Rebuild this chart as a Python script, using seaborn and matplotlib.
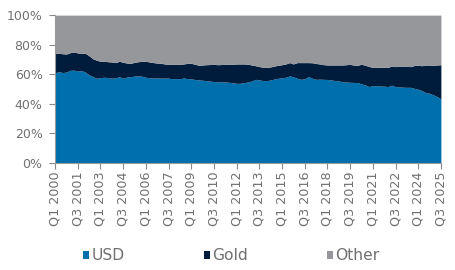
import matplotlib
matplotlib.use("Agg")
import matplotlib.pyplot as plt
import seaborn as sns
import numpy as np
import pandas as pd

# Quarterly shares (%), Q1 2000 .. Q3 2025
usd = [61.0, 61.8, 61.2, 61.5, 62.7, 62.8, 62.2, 62.5, 61.5, 59.6,
       58.5, 57.3, 57.8, 58.0, 57.8, 57.4, 57.6, 58.4, 57.3, 58.2,
       58.4, 58.8, 58.9, 58.7, 58.0, 57.6, 57.5, 57.6, 57.4, 57.5,
       57.4, 57.0, 57.1, 57.0, 57.5, 57.1, 56.9, 56.5, 56.2, 56.0,
       55.7, 55.4, 55.1, 54.8, 55.0, 54.8, 54.6, 54.3, 53.9, 53.9,
       54.4, 54.8, 55.5, 56.6, 56.2, 55.8, 55.7, 56.2, 56.8, 57.3,
       57.7, 58.0, 58.9, 58.4, 57.3, 56.6, 57.0, 58.4, 57.3, 56.6,
       56.7, 56.6, 56.5, 56.2, 55.8, 55.5, 55.0, 54.8, 54.6, 54.5,
       54.4, 53.5, 52.8, 51.7, 52.4, 52.3, 52.1, 52.0, 51.7, 52.6,
       51.7, 51.5, 51.3, 51.2, 51.2, 50.5, 49.9, 49.0, 47.6, 47.2,
       46.1, 44.9, 43.4]
usd_plus_gold = [74.2, 74.2, 73.9, 73.7, 74.6, 75.1, 74.4, 74.3, 74.2, 72.5,
                 70.5, 69.5, 68.8, 68.8, 68.5, 68.3, 67.9, 68.8, 68.1, 67.6,
                 67.4, 68.1, 68.5, 68.8, 68.8, 68.3, 67.9, 67.6, 67.4, 67.0,
                 66.7, 66.7, 66.7, 66.7, 67.0, 67.4, 67.4, 66.8, 66.1, 66.3,
                 66.5, 66.6, 66.7, 66.5, 66.6, 66.7, 66.7, 66.8, 67.0, 67.0,
                 67.0, 66.8, 66.3, 65.8, 65.2, 64.8, 64.7, 65.0, 65.6, 66.1,
                 66.5, 67.0, 67.9, 67.0, 67.9, 67.9, 67.9, 67.9, 67.8, 67.3,
                 67.0, 66.5, 66.3, 66.3, 66.3, 66.3, 66.3, 66.5, 66.7, 66.2,
                 66.1, 66.8, 66.1, 65.3, 64.7, 64.7, 64.7, 64.7, 64.7, 65.6,
                 65.2, 65.4, 65.6, 65.3, 65.2, 66.0, 66.1, 65.8, 66.3, 66.2,
                 66.1, 66.3, 66.5]
series_names = ["USD", "Gold", "Other"]
colors = ["#0070AC", "#001C3D", "#96979B"]

quarters = []
for y in range(2000, 2026):
    for q in range(1, 5):
        quarters.append(f"Q{q} {y}")
quarters = quarters[:len(usd)]

df = pd.DataFrame({"quarter": quarters, "USD": usd, "USD+Gold": usd_plus_gold})
df["Gold"] = df["USD+Gold"] - df["USD"]
df["Other"] = 100 - df["USD+Gold"]

sns.set_theme(style="white")
plt.rcParams["font.family"] = ["DejaVu Sans"]

fig = plt.figure(figsize=(4.55, 2.70), dpi=100)
ax = fig.add_axes([0.121, 0.396, 0.848, 0.548])

xs = np.arange(len(df))
ax.stackplot(xs, df["USD"], df["Gold"], df["Other"], colors=colors,
             labels=series_names, linewidth=0)

ax.set_xlim(0, len(df) - 1)
ax.set_ylim(0, 100)
ax.set_yticks(range(0, 101, 20))
ax.set_yticklabels([f"{v}%" for v in range(0, 101, 20)])
tick_idx = list(range(0, len(df), 6))
ax.set_xticks(tick_idx)
ax.set_xticklabels([df["quarter"][i] for i in tick_idx], rotation=90)

txt_color = "#707070"
ax.tick_params(axis="both", colors="#8a8a8a", labelcolor=txt_color,
               length=4, width=0.8, direction="out",
               bottom=True, left=True, pad=2)
ax.tick_params(axis="x", labelsize=9.2)
ax.tick_params(axis="y", labelsize=9.0, pad=5)
sns.despine(ax=ax, top=True, right=True)
for s in ["left", "bottom"]:
    ax.spines[s].set_color("#9a9a9a")
    ax.spines[s].set_linewidth(0.8)

handles, labels = ax.get_legend_handles_labels()
leg = fig.legend(handles, labels, loc="center", bbox_to_anchor=(0.508, 0.052),
                 ncol=3, frameon=False, handlelength=0.38, handleheight=0.38,
                 handletextpad=0.15, columnspacing=5.1, fontsize=11.2)
for t in leg.get_texts():
    t.set_color(txt_color)

fig.savefig("out.png", dpi=100)
